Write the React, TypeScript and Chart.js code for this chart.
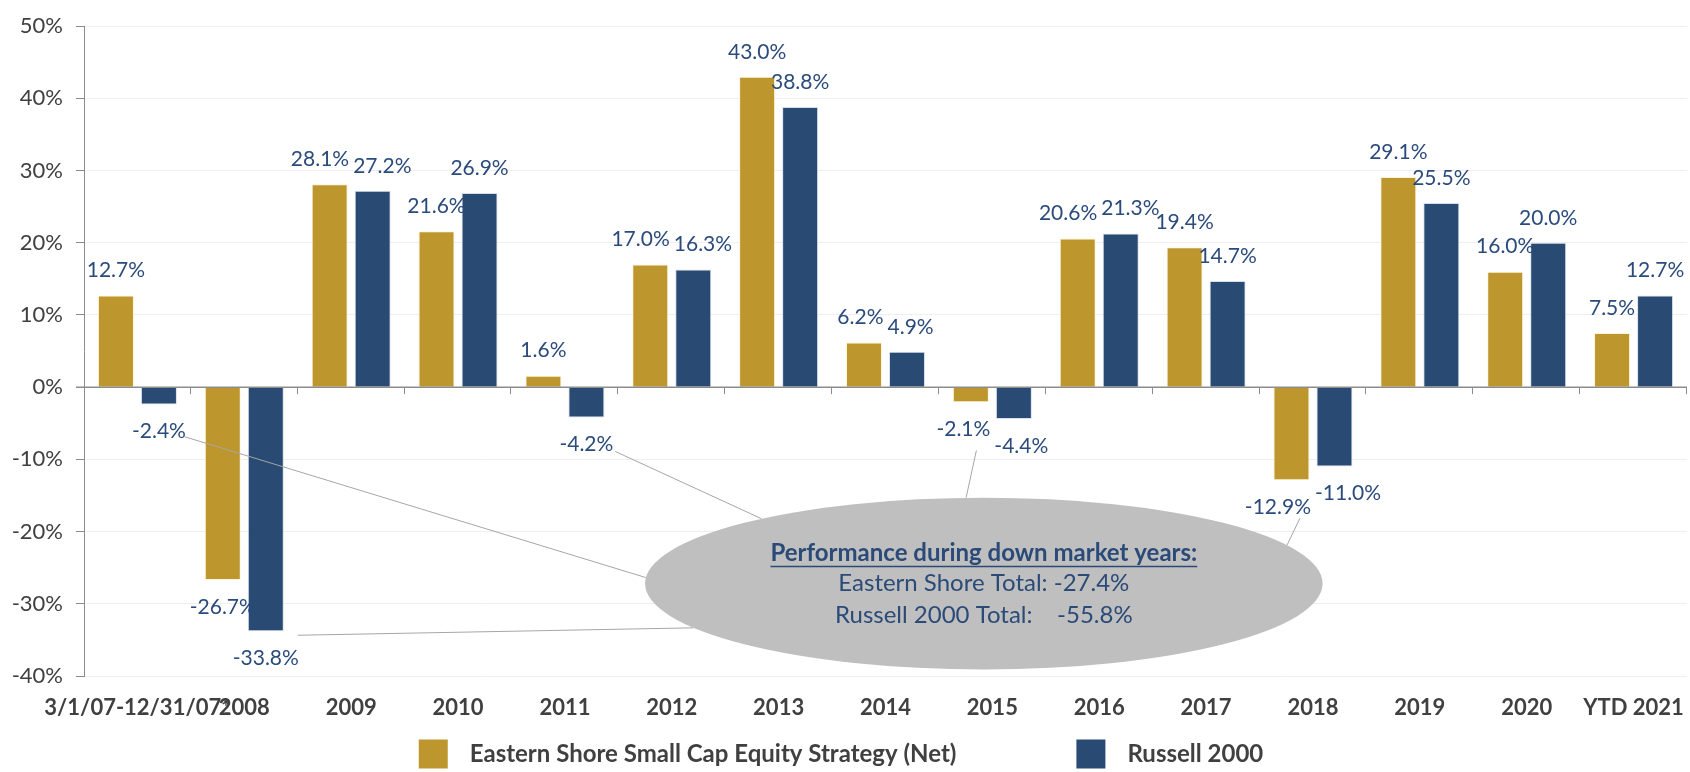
import React, { useEffect, useRef } from 'react';
import { Chart, registerables } from 'chart.js';

Chart.register(...registerables);

// ---------- data ----------
const categories = [
  '3/1/07-12/31/07*', '2008', '2009', '2010', '2011', '2012', '2013', '2014',
  '2015', '2016', '2017', '2018', '2019', '2020', 'YTD 2021',
];
const easternShore = [12.7, -26.7, 28.1, 21.6, 1.6, 17.0, 43.0, 6.2, -2.1, 20.6, 19.4, -12.9, 29.1, 16.0, 7.5];
const russell2000 = [-2.4, -33.8, 27.2, 26.9, -4.2, 16.3, 38.8, 4.9, -4.4, 21.3, 14.7, -11.0, 25.5, 20.0, 12.7];
const seriesNames = ['Eastern Shore Small Cap Equity Strategy (Net)', 'Russell 2000'];
const yMin = -40;
const yMax = 50;
const yStep = 10;
const calloutTitle = 'Performance during down market years:';
const calloutLines = ['Eastern Shore Total: -27.4%', 'Russell 2000 Total:    -55.8%'];

// ---------- styles ----------
const FONT = 'Lato, "Open Sans", sans-serif';
const GOLD = '#BD972E';
const BLUE = '#284A73';
const LABEL_COLOR = '#2B4B7C';
const AXIS_GREY = '#8C8C8C';
const TEXT_GREY = '#404040';
const LABEL_FONT = `21px ${FONT}`;

// callout ellipse placed in data space (category index / value)
const callout = { xIndex: 7.92, yValue: -27.2, rxCats: 3.17, ryValue: 11.9 };
// leader lines: from a data label (dataset, index, offset) to an ellipse angle (deg)
const leaders = [
  { d: 1, i: 0, dx: 25, dy: 5, angle: 184 },
  { d: 1, i: 1, dx: 32, dy: -23, angle: 149 },
  { d: 1, i: 4, dx: 29, dy: 7, angle: 229 },
  { d: 0, i: 8, dx: 13, dy: 21, angle: 267 },
  { d: 0, i: 11, dx: 22, dy: 11, angle: 333.5 },
];

type Lbl = { x: number; y: number; w: number; text: string };

// compute label positions (above/below bars), pushing apart overlapping pairs
function computeLabels(chart: any): Lbl[][] {
  const ctx = chart.ctx;
  ctx.save();
  ctx.font = LABEL_FONT;
  const out: Lbl[][] = chart.data.datasets.map((ds: any, d: number) =>
    ds.data.map((v: number, i: number) => {
      const bar = chart.getDatasetMeta(d).data[i] as any;
      const text = `${v.toFixed(1)}%`;
      return { x: bar.x, y: v >= 0 ? bar.y - 25 : bar.y + 27, w: ctx.measureText(text).width, text };
    })
  );
  ctx.restore();
  for (let i = 0; i < categories.length; i++) {
    const a = out[0][i];
    const b = out[1][i];
    if (Math.abs(a.y - b.y) < 21) {
      const overlap = a.x + a.w / 2 + 4 - (b.x - b.w / 2);
      if (overlap > 0) {
        a.x -= overlap / 2;
        b.x += overlap / 2;
      }
    }
  }
  return out;
}

const overlayPlugin = {
  id: 'overlay',
  afterDatasetsDraw(chart: any) {
    const { ctx, chartArea, scales } = chart;
    const xs = scales.x;
    const ys = scales.y;
    const y0 = ys.getPixelForValue(0);
    const catW = xs.getPixelForValue(1) - xs.getPixelForValue(0);

    ctx.save();
    // zero line + category tick marks
    ctx.strokeStyle = AXIS_GREY;
    ctx.lineWidth = 1.5;
    ctx.beginPath();
    ctx.moveTo(chartArea.left - 8, y0);
    ctx.lineTo(chartArea.right, y0);
    ctx.stroke();
    ctx.lineWidth = 1;
    for (let k = 1; k <= categories.length; k++) {
      const x = Math.round(chartArea.left + k * catW) - 0.5;
      ctx.beginPath();
      ctx.moveTo(x, y0);
      ctx.lineTo(x, y0 + 7);
      ctx.stroke();
    }

    // data labels
    const labels = computeLabels(chart);
    ctx.fillStyle = LABEL_COLOR;
    ctx.font = LABEL_FONT;
    ctx.textAlign = 'center';
    ctx.textBaseline = 'middle';
    labels.forEach((row) => row.forEach((l) => ctx.fillText(l.text, l.x, l.y)));

    // callout
    const cx = xs.getPixelForValue(callout.xIndex);
    const cy = ys.getPixelForValue(callout.yValue);
    const rx = callout.rxCats * catW;
    const ry = Math.abs(ys.getPixelForValue(callout.ryValue) - y0);

    ctx.strokeStyle = '#A6A6A6';
    ctx.lineWidth = 1;
    leaders.forEach((l) => {
      const p = labels[l.d][l.i];
      const a = (l.angle * Math.PI) / 180;
      ctx.beginPath();
      ctx.moveTo(p.x + l.dx, p.y + l.dy);
      ctx.lineTo(cx + rx * Math.cos(a), cy + ry * Math.sin(a));
      ctx.stroke();
    });

    ctx.fillStyle = '#BFBFBF';
    ctx.beginPath();
    ctx.ellipse(cx, cy, rx, ry, 0, 0, Math.PI * 2);
    ctx.fill();

    ctx.fillStyle = '#2A4A78';
    ctx.textAlign = 'center';
    ctx.textBaseline = 'middle';
    ctx.font = `bold 24px ${FONT}`;
    ctx.fillText(calloutTitle, cx, cy - 30);
    const tw = ctx.measureText(calloutTitle).width;
    ctx.strokeStyle = '#2A4A78';
    ctx.lineWidth = 1.5;
    ctx.beginPath();
    ctx.moveTo(cx - tw / 2, cy - 30 + 13);
    ctx.lineTo(cx + tw / 2, cy - 30 + 13);
    ctx.stroke();
    ctx.font = `24px ${FONT}`;
    ctx.fillText(calloutLines[0], cx, cy);
    ctx.fillText(calloutLines[1], cx, cy + 32);
    ctx.restore();
  },
  afterDraw(chart: any) {
    const { ctx, width, height } = chart;
    ctx.save();
    ctx.font = `bold 24px ${FONT}`;
    ctx.textBaseline = 'middle';
    ctx.textAlign = 'left';
    const box = 29;
    const gap = 22;
    const itemGap = 120;
    const w1 = ctx.measureText(seriesNames[0]).width;
    const w2 = ctx.measureText(seriesNames[1]).width;
    const total = box + gap + w1 + itemGap + box + gap + w2;
    let x = width / 2 - 4 - total / 2;
    const yMid = height - 18;
    const colors = [GOLD, BLUE];
    [w1, w2].forEach((w, k) => {
      ctx.fillStyle = colors[k];
      ctx.fillRect(x, yMid - box / 2, box, box);
      ctx.fillStyle = TEXT_GREY;
      ctx.fillText(seriesNames[k], x + box + gap, yMid);
      x += box + gap + w + itemGap;
    });
    ctx.restore();
  },
};

export default function App() {
  const ref = useRef<HTMLCanvasElement>(null);

  useEffect(() => {
    const canvas = ref.current;
    if (!canvas) return;
    const chart = new Chart(canvas, {
      type: 'bar',
      data: {
        labels: categories,
        datasets: [
          {
            label: seriesNames[0],
            data: easternShore,
            backgroundColor: GOLD,
            borderColor: 'rgba(255,240,200,0.7)',
            borderWidth: 1,
            categoryPercentage: 0.805,
            barPercentage: 0.837,
          },
          {
            label: seriesNames[1],
            data: russell2000,
            backgroundColor: BLUE,
            borderColor: 'rgba(200,210,225,0.7)',
            borderWidth: 1,
            categoryPercentage: 0.805,
            barPercentage: 0.837,
          },
        ],
      },
      options: {
        animation: false,
        responsive: false,
        maintainAspectRatio: false,
        layout: { padding: { top: 16, right: 3, left: 0, bottom: 0 } },
        plugins: {
          legend: { display: false },
          tooltip: { enabled: false },
        },
        scales: {
          x: {
            grid: { display: false, drawTicks: false },
            border: { display: false },
            ticks: {
              font: { family: FONT, size: 22, weight: 'bold' },
              color: TEXT_GREY,
              padding: 19,
              autoSkip: false,
              maxRotation: 0,
              minRotation: 0,
            },
            afterFit: (s: any) => {
              s.height = 96;
              s.paddingLeft = 0;
              s.paddingRight = 0;
            },
          },
          y: {
            min: yMin,
            max: yMax,
            ticks: {
              stepSize: yStep,
              callback: (v: any) => `${v}%`,
              font: { family: FONT, size: 22 },
              color: TEXT_GREY,
              padding: 13,
            },
            grid: {
              color: (c: any) => (c.tick && c.tick.value === 0 ? AXIS_GREY : '#EFEFEF'),
              tickColor: AXIS_GREY,
              tickLength: 8,
              lineWidth: 1,
            },
            border: { color: AXIS_GREY, width: 1 },
            afterFit: (s: any) => {
              s.width = 84;
            },
          },
        },
      },
      plugins: [overlayPlugin],
    } as any);
    return () => chart.destroy();
  }, []);

  return (
    <div style={{ position: 'fixed', left: 0, top: 0, width: 1690, height: 772, background: '#fff' }}>
      <canvas ref={ref} width={1690} height={772} style={{ display: 'block', width: 1690, height: 772 }} />
    </div>
  );
}
